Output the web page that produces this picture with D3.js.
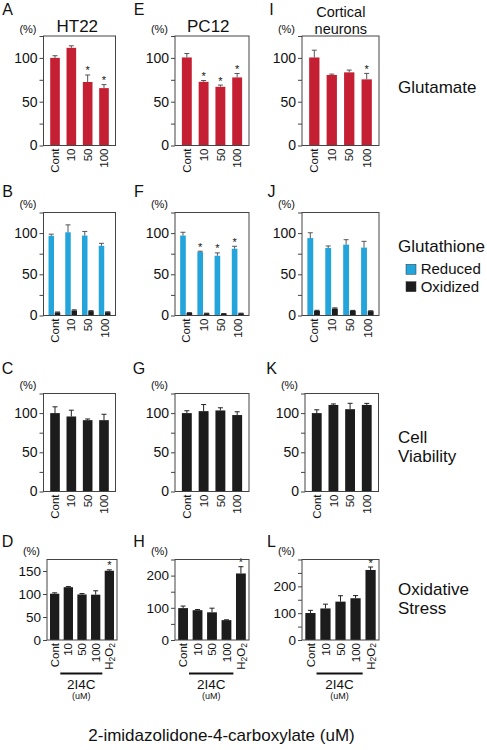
<!DOCTYPE html>
<html><head><meta charset="utf-8">
<script src="https://cdn.jsdelivr.net/npm/d3@7"></script>
<style>
body{margin:0;background:#fff}
svg{display:block}
text{font-family:"Liberation Sans",Arial,Helvetica,sans-serif;fill:#111}
</style>
</head><body>
<svg id="c" width="487" height="750"></svg>
<script>
// ---------------- data ----------------
const doses = ["Cont","10","50","100"];
const stressGroups = ["Cont","10","50","100","H2O2"];
const cellLines = ["HT22","PC12","Cortical neurons"];
const rowLabels = ["Glutamate","Glutathione","Cell Viability","Oxidative Stress"];
const gshForms = ["Reduced","Oxidized"];
const panelLetters = [["A","E","I"],["B","F","J"],["C","G","K"],["D","H","L"]];
const xAxisTitle = "2-imidazolidone-4-carboxylate (uM)";
const drugLabel = "2I4C";
const drugUnit = "(uM)";
const yUnit = "(%)";

// Glutamate (%)
const gluHT22 = [100, 111.5, 72.5, 65.5];
const gluHT22Err = [2.5, 2.3, 8, 4];
const gluHT22Sig = [0, 0, 1, 1];
const gluPC12 = [100.5, 72.7, 67, 77.7];
const gluPC12Err = [4.5, 1.5, 2, 4.5];
const gluPC12Sig = [0, 1, 1, 1];
const gluCort = [100.5, 80.5, 83.5, 75.5];
const gluCortErr = [8.3, 1, 2.6, 6.8];
const gluCortSig = [0, 0, 0, 1];

// Glutathione (%) reduced / oxidized
const gshRedHT22 = [96.7, 101, 97, 84.6];
const gshRedHT22Err = [2, 9, 5, 3];
const gshOxHT22 = [3.7, 6, 5.3, 4];
const gshOxHT22Err = [0.5, 0.8, 0.5, 0.4];
const gshRedHT22Sig = [0, 0, 0, 0];
const gshRedPC12 = [97, 77, 72.5, 81];
const gshRedPC12Err = [4, 1, 3.5, 3];
const gshOxPC12 = [3, 2.5, 2, 2.5];
const gshOxPC12Err = [0.4, 0.3, 0.3, 0.3];
const gshRedPC12Sig = [0, 1, 1, 1];
const gshRedCort = [94, 82, 86, 82.4];
const gshRedCortErr = [6.4, 2.4, 6, 7.6];
const gshOxCort = [5.7, 8.4, 5.7, 5.3];
const gshOxCortErr = [0.6, 0.8, 0.5, 0.4];
const gshRedCortSig = [0, 0, 0, 0];

// Cell viability (%)
const viaHT22 = [100, 95.7, 91, 91];
const viaHT22Err = [8, 8, 1.5, 7.5];
const viaPC12 = [100, 102.5, 103.4, 97.5];
const viaPC12Err = [3, 8.4, 3.4, 4.2];
const viaCort = [100, 110.4, 105, 110.4];
const viaCortErr = [4.2, 1.3, 7.5, 2];

// Oxidative stress (%)
const oxsHT22 = [100.6, 114.8, 99, 98.5, 150.5];
const oxsHT22Err = [2, 1.4, 2, 8.5, 2];
const oxsPC12 = [99, 92.6, 86, 61.7, 206.6];
const oxsPC12Err = [6.4, 2, 12.8, 1, 21];
const oxsCort = [100.5, 117.6, 143, 155.6, 261];
const oxsCortErr = [10, 16, 22, 10, 11];
const oxsSig = [0, 0, 0, 0, 1];

// y axes
const yMaxStd = 125, yTickStd = 25, yLabelStd = 50;
const yMaxD = 175, yTickD = 50, yLabelD = 50;
const yMaxH = 250, yTickH = 50, yLabelH = 100;
const yMaxL = 300, yTickL = 50, yLabelL = 100;

// ---------------- colors / layout ----------------
const RED = "#c51f33", BLUE = "#23a5dc", BLACK = "#1c1c1c";
const svg = d3.select("#c");

const colFrames = [{l:43.5,r:115.5},{l:175,r:249},{l:302,r:379}];
const rowFrames = [{t:36,b:145.5},{t:212.5,b:315.5},{t:393.5,b:491.5},{t:559.5,b:640}];
const unitBase = [33, 208, 389, 555];
const letterBase = [15, 197, 374, 547];
const letterX = [7.5, 139, 271.5];

function frameOf(r, c){
  let f = {l: colFrames[c].l, r: colFrames[c].r, t: rowFrames[r].t, b: rowFrames[r].b};
  if (r === 3 && c === 0) { f.l = 47; f.r = 117; }
  if (r === 2 && c === 2) { f.l = 305; f.r = 378.5; }
  return f;
}

function drawAxes(f, y, max, step, labStep, r){
  const g = svg.append("g").attr("transform", `translate(${f.l},0)`);
  const ax = d3.axisLeft(y).tickValues(d3.range(0, max + 0.001, step))
    .tickSize(4).tickPadding(2)
    .tickFormat(d => (d % labStep === 0 && d < max) ? d : "");
  g.call(ax);
  g.select(".domain").remove();
  g.selectAll(".tick line").attr("stroke", "#444");
  g.selectAll(".tick text").attr("font-size", r === 3 ? 13.5 : 14).attr("fill", "#111")
    .style("font-family", '"Liberation Sans",Arial,sans-serif');
  svg.append("rect").attr("x", f.l).attr("y", f.t).attr("width", f.r - f.l).attr("height", f.b - f.t)
    .attr("fill", "none").attr("stroke", "#444").attr("stroke-width", 1);
  svg.append("text").attr("x", f.l - 7).attr("y", unitBase[r]).attr("text-anchor", "end")
    .attr("font-size", 11).text(yUnit);
}

function xLabels(f, xb, cats){
  cats.forEach(c => {
    const cx = xb(c) + xb.bandwidth() / 2;
    const t = svg.append("text")
      .attr("transform", `translate(${cx},${f.b + 3}) rotate(-90)`)
      .attr("text-anchor", "end").attr("dy", "0.36em").attr("font-size", 11.5);
    if (c === "H2O2") {
      t.append("tspan").text("H");
      t.append("tspan").attr("font-size", 8.5).attr("dy", 1.5).text("2");
      t.append("tspan").attr("dy", -1.5).text("O");
      t.append("tspan").attr("font-size", 8.5).attr("dy", 1.5).text("2");
    } else t.text(c);
  });
}

function errBar(cx, y, v, e, sig, color){
  if (e > 0) {
    svg.append("line").attr("x1", cx).attr("x2", cx).attr("y1", y(v)).attr("y2", y(v + e))
      .attr("stroke", color).attr("stroke-width", 1);
    svg.append("line").attr("x1", cx - 2.5).attr("x2", cx + 2.5).attr("y1", y(v + e)).attr("y2", y(v + e))
      .attr("stroke", color).attr("stroke-width", 1);
  }
  if (sig) {
    svg.append("text").attr("x", cx).attr("y", y(v + e) - 0.5).attr("text-anchor", "middle")
      .attr("font-size", 11).text("*");
  }
}

function simplePanel(r, c, cats, vals, errs, sigs, color, max, step, labStep, pad){
  const f = frameOf(r, c);
  const y = d3.scaleLinear().domain([0, max]).range([f.b, f.t]);
  const xb = d3.scaleBand().domain(cats).range([f.l, f.r]).paddingInner(pad[0]).paddingOuter(pad[1]);
  svg.selectAll(null).data(cats).enter().append("rect")
    .attr("x", d => xb(d)).attr("width", xb.bandwidth())
    .attr("y", (d, i) => y(vals[i])).attr("height", (d, i) => f.b - y(vals[i]))
    .attr("fill", color);
  cats.forEach((d, i) => errBar(xb(d) + xb.bandwidth() / 2, y, vals[i], errs[i], sigs ? sigs[i] : 0,
    color === BLACK ? "#222" : "#555"));
  drawAxes(f, y, max, step, labStep, r);
  xLabels(f, xb, cats);
  return {f, xb, y};
}

function gshPanel(r, c, red, redErr, ox, oxErr, sigs){
  const f = frameOf(r, c);
  const y = d3.scaleLinear().domain([0, yMaxStd]).range([f.b, f.t]);
  const xb = d3.scaleBand().domain(doses).range([f.l, f.r]).padding(0.3);
  const xs = d3.scaleBand().domain(gshForms).range([0, xb.bandwidth()]).paddingInner(0.12);
  const series = [
    {key: "Reduced", vals: red, errs: redErr, sig: sigs, color: BLUE, ec: "#555"},
    {key: "Oxidized", vals: ox, errs: oxErr, sig: null, color: BLACK, ec: "#222"}
  ];
  series.forEach(s => {
    svg.selectAll(null).data(doses).enter().append("rect")
      .attr("x", d => xb(d) + xs(s.key)).attr("width", xs.bandwidth())
      .attr("y", (d, i) => y(s.vals[i])).attr("height", (d, i) => f.b - y(s.vals[i]))
      .attr("fill", s.color);
    doses.forEach((d, i) => errBar(xb(d) + xs(s.key) + xs.bandwidth() / 2, y, s.vals[i], s.errs[i],
      s.sig ? s.sig[i] : 0, s.ec));
  });
  drawAxes(f, y, yMaxStd, yTickStd, yLabelStd, r);
  xLabels(f, xb, doses);
}

// ---------------- panels ----------------
const padStd = [0.41, 0.41];
const padStress = [0.32, 0.22];

simplePanel(0, 0, doses, gluHT22, gluHT22Err, gluHT22Sig, RED, yMaxStd, yTickStd, yLabelStd, padStd);
simplePanel(0, 1, doses, gluPC12, gluPC12Err, gluPC12Sig, RED, yMaxStd, yTickStd, yLabelStd, padStd);
simplePanel(0, 2, doses, gluCort, gluCortErr, gluCortSig, RED, yMaxStd, yTickStd, yLabelStd, padStd);

gshPanel(1, 0, gshRedHT22, gshRedHT22Err, gshOxHT22, gshOxHT22Err, gshRedHT22Sig);
gshPanel(1, 1, gshRedPC12, gshRedPC12Err, gshOxPC12, gshOxPC12Err, gshRedPC12Sig);
gshPanel(1, 2, gshRedCort, gshRedCortErr, gshOxCort, gshOxCortErr, gshRedCortSig);

simplePanel(2, 0, doses, viaHT22, viaHT22Err, null, BLACK, yMaxStd, yTickStd, yLabelStd, padStd);
simplePanel(2, 1, doses, viaPC12, viaPC12Err, null, BLACK, yMaxStd, yTickStd, yLabelStd, padStd);
simplePanel(2, 2, doses, viaCort, viaCortErr, null, BLACK, yMaxStd, yTickStd, yLabelStd, padStd);

const stressPanels = [
  simplePanel(3, 0, stressGroups, oxsHT22, oxsHT22Err, oxsSig, BLACK, yMaxD, yTickD, yLabelD, padStress),
  simplePanel(3, 1, stressGroups, oxsPC12, oxsPC12Err, oxsSig, BLACK, yMaxH, yTickH, yLabelH, padStress),
  simplePanel(3, 2, stressGroups, oxsCort, oxsCortErr, oxsSig, BLACK, yMaxL, yTickL, yLabelL, padStress)
];

// drug bracket under oxidative stress panels
stressPanels.forEach(p => {
  const bw = p.xb.bandwidth();
  const x1 = p.xb("Cont") + bw + 1, x2 = p.xb("100") + bw + 2;
  svg.append("line").attr("x1", x1).attr("x2", x2).attr("y1", 673.5).attr("y2", 673.5)
    .attr("stroke", "#111").attr("stroke-width", 2);
  const cx = (x1 + x2) / 2;
  svg.append("text").attr("x", cx).attr("y", 688.5).attr("text-anchor", "middle")
    .attr("font-size", 13.5).text(drugLabel);
  svg.append("text").attr("x", cx).attr("y", 699).attr("text-anchor", "middle")
    .attr("font-size", 9).text(drugUnit);
});

// panel letters
panelLetters.forEach((row, r) => row.forEach((L, c) => {
  svg.append("text").attr("x", letterX[c]).attr("y", letterBase[r]).attr("text-anchor", "middle")
    .attr("font-size", 16).text(L);
}));

// column titles
svg.append("text").attr("x", 77.3).attr("y", 31.7).attr("text-anchor", "middle").attr("font-size", 17).text(cellLines[0]);
svg.append("text").attr("x", 208.3).attr("y", 32).attr("text-anchor", "middle").attr("font-size", 17).text(cellLines[1]);
const ct = svg.append("text").attr("text-anchor", "middle").attr("font-size", 14.5);
cellLines[2].split(" ").forEach((w, i) => {
  ct.append("tspan").attr("x", 340.8).attr("y", i === 0 ? 17 : 33.5).text(w);
});

// row labels
const rowLabelY = [[93.3], [252.3], [442.7, 461.7], [595, 614]];
rowLabels.forEach((lab, r) => {
  const words = r >= 2 ? lab.split(" ") : [lab];
  const t = svg.append("text").attr("font-size", 17);
  words.forEach((w, i) => t.append("tspan").attr("x", 398).attr("y", rowLabelY[r][i]).text(w));
});

// legend
const legY = [264.3, 281.7];
const legColors = [BLUE, BLACK];
gshForms.forEach((k, i) => {
  svg.append("rect").attr("x", 406).attr("y", legY[i]).attr("width", 10).attr("height", 10)
    .attr("fill", legColors[i]).attr("stroke", "#333").attr("stroke-width", 0.5);
  svg.append("text").attr("x", 420.7).attr("y", legY[i] + 9.8).attr("font-size", 15).text(k);
});

// bottom title
svg.append("text").attr("x", 221.5).attr("y", 741).attr("text-anchor", "middle")
  .attr("font-size", 17).text(xAxisTitle);
</script></body></html>
